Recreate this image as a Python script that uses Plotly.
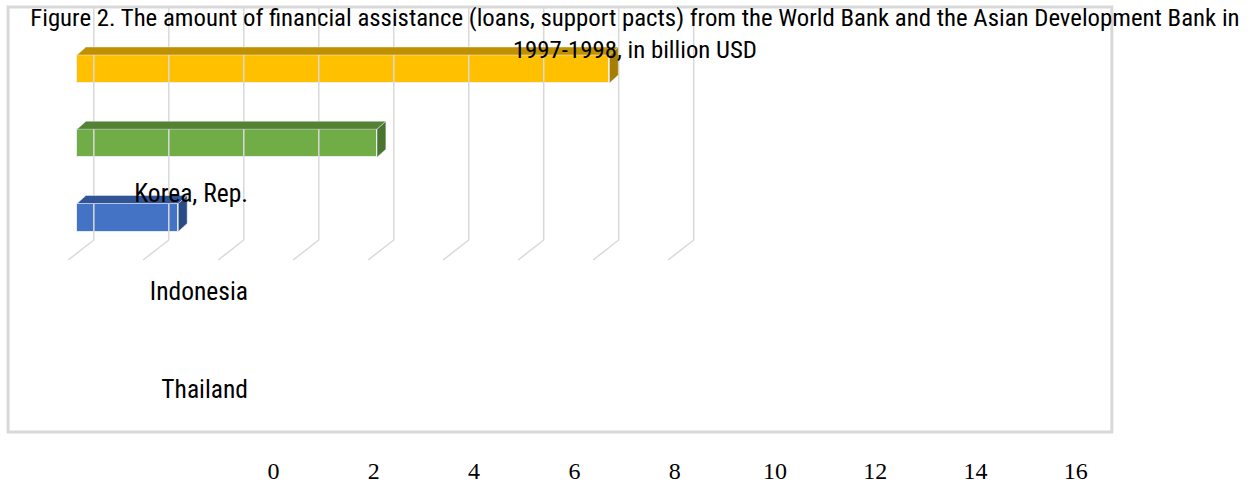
import plotly.graph_objects as go

# ---- data ----
categories = ["Thailand", "Indonesia", "Korea, Rep."]
values = [2.7, 8.0, 14.2]
front_colors = ["#4472C4", "#70AD47", "#FFC000"]
top_colors = ["#2F5597", "#548235", "#BF9000"]
side_colors = ["#2A4B84", "#4A7530", "#A67E00"]
x_ticks = [0, 2, 4, 6, 8, 10, 12, 14, 16]
title_text = ("Figure 2. The amount of financial assistance (loans, support pacts) from the World Bank "
              "and the Asian Development Bank in<br>1997-1998, in billion USD")

W, H = 1258, 484

# horizontal correction for the capture (picture x ~= 0.9859 * (page x + 6))
SX, OX = 0.9859, 6.0


def cx(x):
    return x / SX - OX


# geometry of the (displaced) 3D bar area, in picture pixels
px_per_unit = 37.5 / SX
x0_px = cx(77)
cat_step_px = 74.25
first_cat_px = 217.5
bar_w = 28 / cat_step_px
dx = 9 / px_per_unit
dy = 8 / cat_step_px
back_off = 17 / px_per_unit
grid_top = (first_cat_px - 8) / cat_step_px
grid_bot = (first_cat_px - 240) / cat_step_px
floor_bot = (first_cat_px - 260) / cat_step_px
floor_dx = -26 / px_per_unit

xr = [-x0_px / px_per_unit, (W - x0_px) / px_per_unit]
yr = [(first_cat_px - H) / cat_step_px, first_cat_px / cat_step_px]
ypos = list(range(len(categories)))

fig = go.Figure()

# back-wall gridlines and floor lines
gx, gy = [], []
for t in x_ticks:
    gx += [t + back_off, t + back_off, t + back_off + floor_dx, None]
    gy += [grid_top, grid_bot, floor_bot, None]
fig.add_trace(go.Scatter(x=gx, y=gy, mode="lines", line=dict(color="#d9d9d9", width=1.5),
                         hoverinfo="skip", showlegend=False))

# front faces of the bars
fig.add_trace(go.Bar(x=values, y=ypos, orientation="h", width=bar_w,
                     marker=dict(color=front_colors, line=dict(color="rgba(235,240,248,0.9)", width=1)),
                     showlegend=False))

# top and side faces
for v, c, tc, sc in zip(values, ypos, top_colors, side_colors):
    t = c + bar_w / 2
    b = c - bar_w / 2
    fig.add_trace(go.Scatter(x=[0, v, v + dx, dx, 0], y=[t, t, t + dy, t + dy, t],
                             fill="toself", fillcolor=tc, mode="lines",
                             line=dict(color="rgba(235,240,248,0.6)", width=0.8),
                             hoverinfo="skip", showlegend=False))
    fig.add_trace(go.Scatter(x=[v, v + dx, v + dx, v, v], y=[b, b + dy, t + dy, t, b],
                             fill="toself", fillcolor=sc, mode="lines",
                             line=dict(color="rgba(235,240,248,0.6)", width=0.8),
                             hoverinfo="skip", showlegend=False))

# label axes (category labels + value ticks, displaced as in the reference)
fig.add_trace(go.Scatter(x=[None] * len(categories), y=categories, xaxis="x2", yaxis="y2",
                         mode="markers", showlegend=False, hoverinfo="skip"))

sans = "Roboto Condensed, Liberation Sans Narrow, Arial Narrow, Liberation Sans, Arial"
lab_font = dict(family=sans, size=25.5, color="#000000")

fig.update_layout(
    width=W, height=H, autosize=False,
    margin=dict(l=0, r=0, t=0, b=0),
    paper_bgcolor="white", plot_bgcolor="rgba(0,0,0,0)",
    bargap=0,
    title=dict(text=title_text, x=cx(635) / W, xanchor="center", xref="paper",
               y=1 - 26 / H, yanchor="top", yref="container",
               font=dict(family=sans, size=24.8, color="#000000")),
    xaxis=dict(domain=[0, 1], range=xr, visible=False, fixedrange=True),
    yaxis=dict(domain=[0, 1], range=yr, visible=False, fixedrange=True),
    xaxis2=dict(domain=[cx(273.5) / W, cx(1076) / W], range=[0, 16], tickmode="array", tickvals=x_ticks,
                anchor="free", position=1 - 454 / H, showgrid=False, zeroline=False, showline=False,
                ticks="", fixedrange=True,
                tickfont=dict(family="Liberation Serif, Times New Roman, serif", size=24, color="#000000")),
    yaxis2=dict(domain=[1 - 438 / H, 1 - 144 / H], type="category", categoryarray=categories,
                categoryorder="array", range=[-0.5, 2.5], anchor="free", position=cx(248) / W,
                showgrid=False, zeroline=False, showline=False, ticks="", fixedrange=True, tickfont=lab_font),
    shapes=[dict(type="rect", xref="paper", yref="paper", x0=cx(8) / W, x1=cx(1112) / W,
                 y0=1 - 432 / H, y1=1 - 7 / H, line=dict(color="#d9d9d9", width=3), layer="below")],
)

fig.write_html("out.html", config={"responsive": False, "displayModeBar": False},
               post_script="document.body.style.margin='0';document.body.style.overflow='hidden';")
